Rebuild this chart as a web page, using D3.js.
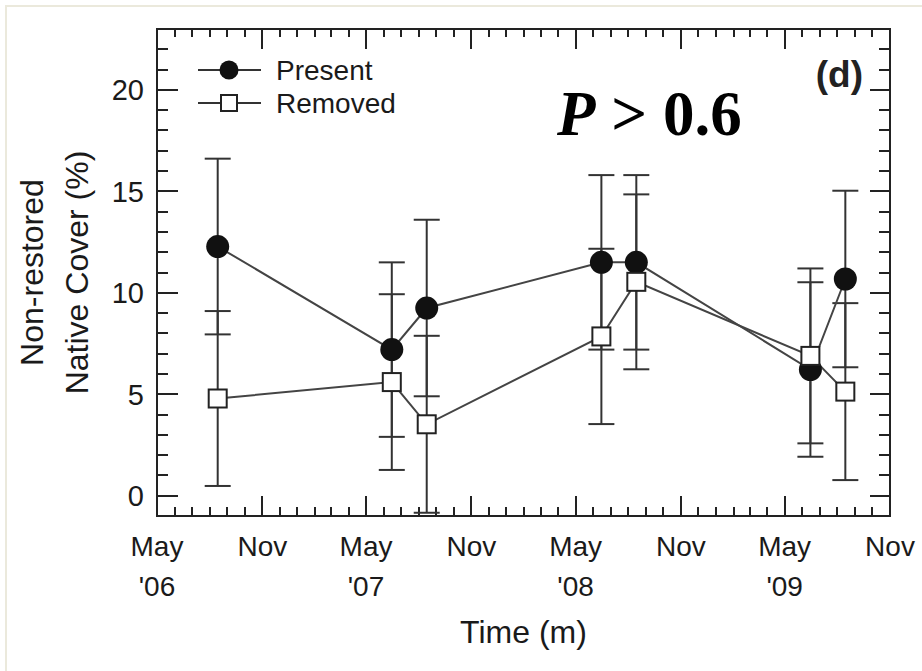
<!DOCTYPE html>
<html>
<head>
<meta charset="utf-8">
<script src="https://cdn.jsdelivr.net/npm/d3@7"></script>
<style>
  body { margin: 0; background: #fff; }
  svg { display: block; font-family: 'Liberation Sans', Arial, sans-serif; }
</style>
</head>
<body>
<div id="chart"></div>
<script>
// sampling dates and means +/- SE
const dates = ['2006-08-15', '2007-06-15', '2007-08-15', '2008-06-15', '2008-08-15', '2009-06-15', '2009-08-15']
const presentMean = [12.28, 7.2, 9.25, 11.5, 11.5, 6.22, 10.68]
const presentSE = [4.33, 4.3, 4.35, 4.3, 4.3, 4.3, 4.35]
const removedMean = [4.79, 5.6, 3.52, 7.85, 10.54, 6.89, 5.13]
const removedSE = [4.31, 4.33, 4.36, 4.32, 4.31, 4.31, 4.36]

const yMajor = [0, 5, 10, 15, 20]
const xDomain = ['2006-05-01', '2009-11-01']
const yDomain = [-1, 23]
const monthLabels = { 4: 'May', 10: 'Nov' }

const W = 922, H = 671
const M = { top: 29, right: 32, bottom: 155, left: 157 }

const parse = d3.utcParse('%Y-%m-%d')

const svg = d3.select('#chart').append('svg')
  .attr('width', W)
  .attr('height', H)

// faint page frame
svg.append('rect')
  .attr('x', 6).attr('y', 6)
  .attr('width', W).attr('height', H)
  .attr('fill', 'none')
  .attr('stroke', '#ebe9dc')
  .attr('stroke-width', 2)

const x = d3.scaleUtc()
  .domain(xDomain.map(parse))
  .range([M.left, W - M.right])

const y = d3.scaleLinear()
  .domain(yDomain)
  .range([H - M.bottom, M.top])

const x0 = x.range()[0], x1 = x.range()[1]
const y0 = y.range()[0], y1 = y.range()[1]

// axes: ticks point inward on all four sides

let months = d3.utcMonth.range(x.domain()[0], d3.utcDay.offset(x.domain()[1], 1))
let isMajor = (d) => d.getUTCMonth() in monthLabels
let minorY = d3.range(yDomain[0], yDomain[1] + 1).filter((v) => yMajor.indexOf(v) < 0)

let ax = svg.append('g').attr('class', 'axes').attr('stroke', '#222').attr('stroke-width', 2)

ax.selectAll('.xt')
  .data(months)
  .enter().append('line')
    .attr('x1', (d) => Math.round(x(d)))
    .attr('x2', (d) => Math.round(x(d)))
    .attr('y1', y0)
    .attr('y2', (d) => y0 - (isMajor(d) ? 20 : 9))

ax.selectAll('.xtt')
  .data(months)
  .enter().append('line')
    .attr('x1', (d) => Math.round(x(d)))
    .attr('x2', (d) => Math.round(x(d)))
    .attr('y1', y1)
    .attr('y2', (d) => y1 + (isMajor(d) ? 20 : 8))

let yTicks = yMajor.map((v) => ({ v, major: true })).concat(minorY.map((v) => ({ v, major: false })))

ax.selectAll('.yt')
  .data(yTicks)
  .enter().append('line')
    .attr('x1', x0)
    .attr('x2', (d) => x0 + (d.major ? 21 : 11))
    .attr('y1', (d) => Math.round(y(d.v)))
    .attr('y2', (d) => Math.round(y(d.v)))

ax.selectAll('.ytr')
  .data(yTicks)
  .enter().append('line')
    .attr('x1', x1)
    .attr('x2', (d) => x1 - (d.major ? 20 : 11))
    .attr('y1', (d) => Math.round(y(d.v)))
    .attr('y2', (d) => Math.round(y(d.v)))

svg.append('rect')
  .attr('x', x0).attr('y', y1)
  .attr('width', x1 - x0).attr('height', y0 - y1)
  .attr('fill', 'none')
  .attr('stroke', '#222')
  .attr('stroke-width', 2)

// tick labels

svg.append('g')
  .selectAll('text')
  .data(yMajor)
  .enter().append('text')
    .attr('x', x0 - 13)
    .attr('y', (d) => y(d))
    .attr('dy', '0.36em')
    .attr('text-anchor', 'end')
    .attr('font-size', 29)
    .attr('fill', '#1a1a1a')
    .text((d) => d)

let majors = months.filter(isMajor)

svg.append('g')
  .selectAll('text')
  .data(majors)
  .enter().append('text')
    .attr('x', (d) => x(d))
    .attr('y', 556)
    .attr('text-anchor', 'middle')
    .attr('font-size', 28)
    .attr('fill', '#1a1a1a')
    .text((d) => monthLabels[d.getUTCMonth()])

svg.append('g')
  .selectAll('text')
  .data(majors.filter((d) => d.getUTCMonth() === 4))
  .enter().append('text')
    .attr('x', (d) => x(d))
    .attr('y', 596)
    .attr('text-anchor', 'middle')
    .attr('font-size', 28)
    .attr('fill', '#1a1a1a')
    .text((d) => "'" + d3.utcFormat('%y')(d))

svg.append('text')
  .attr('x', (x0 + x1) / 2)
  .attr('y', 643)
  .attr('text-anchor', 'middle')
  .attr('font-size', 32)
  .attr('fill', '#1a1a1a')
  .text('Time (m)')

let ytitle = svg.append('text')
  .attr('transform', 'translate(0,' + ((y0 + y1) / 2) + ') rotate(-90)')
  .attr('text-anchor', 'middle')
  .attr('font-size', 32)
  .attr('fill', '#1a1a1a')

ytitle.append('tspan').attr('x', 0).attr('y', 43).text('Non-restored')
ytitle.append('tspan').attr('x', 0).attr('y', 88).text('Native Cover (%)')

// series

let series = [
  { name: 'Present', mean: presentMean, se: presentSE, shape: 'circle' },
  { name: 'Removed', mean: removedMean, se: removedSE, shape: 'square' }
]
series.forEach((s) => {
  s.points = dates.map((d, i) => ({ date: parse(d), v: s.mean[i], se: s.se[i] }))
})

let plot = svg.append('g').attr('class', 'plot')

let eb = plot.selectAll('.errbar')
  .data(series.flatMap((s) => s.points))
  .enter().append('g')
    .attr('class', 'errbar')
    .attr('stroke', '#333')
    .attr('stroke-width', 2)

eb.append('line')
  .attr('x1', (d) => x(d.date)).attr('x2', (d) => x(d.date))
  .attr('y1', (d) => y(d.v - d.se)).attr('y2', (d) => y(d.v + d.se))

eb.selectAll('.cap')
  .data((d) => [d.v - d.se, d.v + d.se].map((v) => ({ date: d.date, v })))
  .enter().append('line')
    .attr('x1', (d) => x(d.date) - 13).attr('x2', (d) => x(d.date) + 13)
    .attr('y1', (d) => y(d.v)).attr('y2', (d) => y(d.v))

let line = d3.line()
  .x((d) => x(d.date))
  .y((d) => y(d.v))

series.forEach((s) => {
  plot.append('path')
    .datum(s.points)
    .attr('fill', 'none')
    .attr('stroke', '#444')
    .attr('stroke-width', 2)
    .attr('d', line)
})

function marker(sel, shape, size) {
  if(shape === 'circle') {
    sel.append('circle')
      .attr('r', size / 2)
      .attr('fill', '#111')
  } else {
    sel.append('rect')
      .attr('x', -size / 2).attr('y', -size / 2)
      .attr('width', size).attr('height', size)
      .attr('fill', '#fff')
      .attr('stroke', '#222')
      .attr('stroke-width', 2)
  }
}

series.forEach((s) => {
  plot.selectAll('.m-' + s.name)
    .data(s.points)
    .enter().append('g')
      .attr('class', 'm-' + s.name)
      .attr('transform', (d) => 'translate(' + [x(d.date), y(d.v)] + ')')
      .each(function() { marker(d3.select(this), s.shape, s.shape === 'circle' ? 23 : 18) })
})

// legend

let legend = svg.append('g').attr('class', 'legend')

let li = legend.selectAll('.item')
  .data(series)
  .enter().append('g')
    .attr('class', 'item')
    .attr('transform', (d, i) => 'translate(229,' + (70 + i * 33) + ')')

li.append('line')
  .attr('x1', -31).attr('x2', 32)
  .attr('stroke', '#333')
  .attr('stroke-width', 2)

li.each(function(d) { marker(d3.select(this), d.shape, d.shape === 'circle' ? 19 : 16) })

li.append('text')
  .attr('x', 47)
  .attr('y', 10)
  .attr('font-size', 28)
  .attr('fill', '#1a1a1a')
  .text((d) => d.name)

// panel letter and test result

svg.append('text')
  .attr('x', 863)
  .attr('y', 87)
  .attr('text-anchor', 'end')
  .attr('font-size', 37)
  .attr('font-weight', 'bold')
  .attr('fill', '#222')
  .text('(d)')

let ptext = svg.append('text')
  .attr('x', 557)
  .attr('y', 135)
  .attr('font-family', "'Liberation Serif', 'Times New Roman', serif")
  .attr('font-weight', 'bold')
  .attr('font-size', 63)
  .attr('fill', '#000')

ptext.append('tspan').attr('font-style', 'italic').text('P')
ptext.append('tspan').text(' > 0.6')
</script>
</body>
</html>
